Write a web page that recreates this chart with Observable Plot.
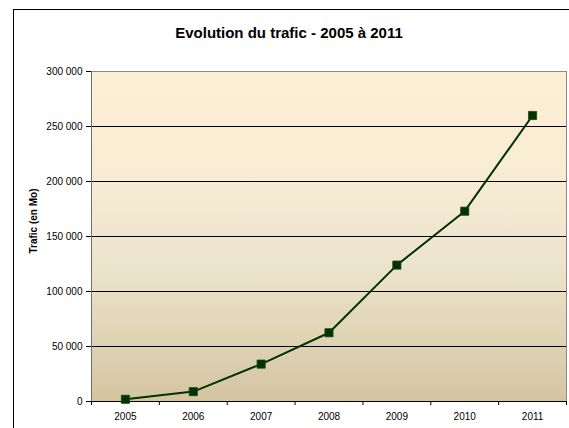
<!DOCTYPE html>
<html><head><meta charset="utf-8">
<script src="https://cdn.jsdelivr.net/npm/d3@7"></script>
<script src="https://cdn.jsdelivr.net/npm/@observablehq/plot@0.6"></script>
<style>
body{margin:0;background:#fff;}
#wrap{position:relative;width:569px;height:428px;overflow:hidden;font-family:"Liberation Sans",Arial,sans-serif;color:#000;}
#frame{position:absolute;left:13px;top:9px;width:620px;height:520px;border:1px solid #000;box-sizing:border-box;}
#title{position:absolute;left:13px;width:552px;top:24px;text-align:center;font-weight:bold;font-size:15px;line-height:18px;white-space:nowrap;}
#ylab{position:absolute;left:33px;top:221px;transform:translate(-50%,-50%) rotate(-90deg);font-weight:bold;font-size:10px;white-space:nowrap;}
#chart{position:absolute;left:0;top:0;}
</style></head>
<body><div id="wrap"><div id="frame"></div><div id="title"></div><div id="ylab"></div><div id="chart"></div></div>
<script>
const titleText = "Evolution du trafic - 2005 à 2011";
const yLabel = "Trafic (en Mo)";
const years = [2005, 2006, 2007, 2008, 2009, 2010, 2011];
const trafic = [2000, 9000, 34000, 62500, 124000, 173000, 260000];
const yTicks = [0, 50000, 100000, 150000, 200000, 250000, 300000];

document.getElementById("title").textContent = titleText;
document.getElementById("ylab").textContent = yLabel;

const data = years.map((y, i) => ({year: y, value: trafic[i]}));
const boundaries = years.map(y => y - 0.5).concat([years[years.length - 1] + 0.5]);
const gridValues = yTicks.slice(1, -1);
const fmt = d => d3.format(",")(d).replace(/,/g, " ");

const chart = Plot.plot({
  width: 569,
  height: 428,
  marginLeft: 91,
  marginRight: 3,
  marginTop: 71,
  marginBottom: 27,
  style: {fontFamily: '"Liberation Sans", Arial, sans-serif', fontSize: "10px", color: "#000", background: "transparent"},
  x: {type: "linear", domain: [boundaries[0], boundaries[boundaries.length - 1]]},
  y: {domain: [0, 300000]},
  marks: [
    Plot.frame({fill: "url(#bgGrad)", stroke: "#8a8a8a"}),
    Plot.ruleY(gridValues, {stroke: "#000", strokeWidth: 1}),
    Plot.ruleX([boundaries[0]], {stroke: "#6e6e6e"}),
    Plot.ruleY([0], {stroke: "#000"}),
    Plot.line(data, {x: "year", y: "value", stroke: "#003300", strokeWidth: 2}),
    Plot.dot(data, {x: "year", y: "value", symbol: "square", r: 4.6, fill: "#003300", stroke: "#1d451d", strokeWidth: 0.8}),
    Plot.axisY({ticks: yTicks, tickFormat: fmt, tickSize: 5, tickPadding: 4, label: null}),
    Plot.axisX({ticks: boundaries, tickFormat: () => "", tickSize: 4, label: null}),
    Plot.axisX({ticks: years, tickFormat: d => String(d), tickSize: 0, tickPadding: 11, label: null})
  ]
});
chart.insertAdjacentHTML("afterbegin",
  '<defs><linearGradient id="bgGrad" x1="0" y1="0" x2="0" y2="1">' +
  '<stop offset="0%" stop-color="#fdefd4"/><stop offset="30%" stop-color="#f8ecd4"/>' +
  '<stop offset="60%" stop-color="#ece3cc"/><stop offset="100%" stop-color="#d4c5a1"/>' +
  '</linearGradient></defs>');
document.getElementById("chart").appendChild(chart);
</script>
</body></html>
